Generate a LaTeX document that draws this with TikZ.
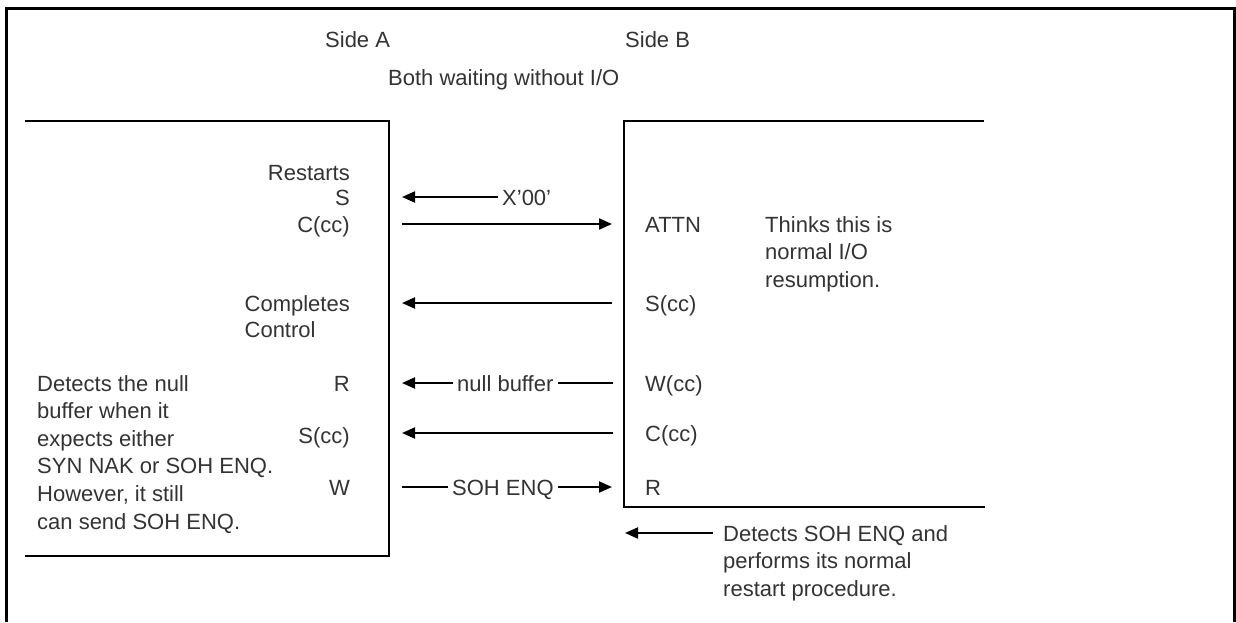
\documentclass[tikz,border=0pt]{standalone}
\usepackage{fontspec}
\setmainfont{Liberation Sans}
\usetikzlibrary{arrows.meta}
\begin{document}
\begin{tikzpicture}[x=1pt,y=-1pt,
  txt/.style={font=\fontsize{22}{27.6}\selectfont, text=black!80, inner sep=0pt},
  online/.style={txt, inner xsep=4pt},
  conn/.style={line width=2pt},
  arr/.style={conn, -{Triangle[length=13pt,width=11pt]}},
  boxline/.style={line width=2pt},
  outerframe/.style={line width=3pt}]
\useasboundingbox (0,0) rectangle (1236,622);
% outer frame (open at bottom)
\draw[outerframe] (6,622) -- (6,8) -- (1234,8) -- (1234,622);
% side A box (open at left) and side B box (open at right)
\draw[boxline] (25,121) -- (389,121) -- (389,556) -- (25,556);
\draw[boxline] (984,121) -- (624,121) -- (624,507) -- (985,507);

% headings
\node[txt, anchor=base west] (sideA) at (325,47) {Side A};
\node[txt, anchor=base west] (sideB) at (625,47) {Side B};
\node[txt, anchor=base west] (both) at (388,85) {Both waiting without I/O};

% side A labels
\node[txt, anchor=base east] (restarts) at (350,180) {Restarts};
\node[txt, anchor=base east] (aS) at (350,205) {S};
\node[txt, anchor=base east] (aC) at (350,232) {C(cc)};
\node[txt, anchor=north east, align=left, font=\fontsize{22}{26}\selectfont] (compl) at (350,295) {Completes\\Control};
\node[txt, anchor=base east] (aR) at (350,391) {R};
\node[txt, anchor=base east] (aScc) at (350,443) {S(cc)};
\node[txt, anchor=base east] (aW) at (350,495) {W};
\node[txt, anchor=north west, align=left] (detnull) at (37,375) {Detects the null\\buffer when it\\expects either\\SYN NAK or SOH ENQ.\\However, it still\\can send SOH ENQ.};

% side B labels
\node[txt, anchor=base west] (bATTN) at (645,232) {ATTN};
\node[txt, anchor=base west] (bScc) at (645,311) {S(cc)};
\node[txt, anchor=base west] (bWcc) at (645,391) {W(cc)};
\node[txt, anchor=base west] (bCcc) at (645,441) {C(cc)};
\node[txt, anchor=base west] (bR) at (645,495) {R};
\node[txt, anchor=north west, align=left] (thinks) at (765,216) {Thinks this is\\normal I/O\\resumption.};
\node[txt, anchor=north west, align=left] (detsoh) at (723,525) {Detects SOH ENQ and\\performs its normal\\restart procedure.};

% arrow end points
\coordinate (a1) at (402,197);
\coordinate (a2) at (402,224);
\coordinate (b2) at (612,224);
\coordinate (a3) at (402,303);
\coordinate (b3) at (612,303);
\coordinate (a4) at (402,383);
\coordinate (b4) at (613,383);
\coordinate (a5) at (402,433);
\coordinate (b5) at (613,433);
\coordinate (a6) at (402,487);
\coordinate (b6) at (612,487);
\coordinate (c7) at (625,533);

% messages
\node[online, anchor=base west] (x00) at (498,205) {X'00'};
\draw[arr] (x00.west |- a1) -- (a1);
\draw[arr] (a2) -- (b2);
\draw[arr] (b3) -- (a3);
\node[online, anchor=base west] (nullbuf) at (453,391) {null buffer};
\draw[conn] (b4) -- (nullbuf.east |- b4);
\draw[arr] (nullbuf.west |- a4) -- (a4);
\draw[arr] (b5) -- (a5);
\node[online, anchor=base west] (soh) at (448,495) {SOH ENQ};
\draw[conn] (a6) -- (soh.west |- a6);
\draw[arr] (soh.east |- b6) -- (b6);
\draw[arr] ([xshift=-10pt]detsoh.west |- c7) -- (c7);
\end{tikzpicture}
\end{document}
